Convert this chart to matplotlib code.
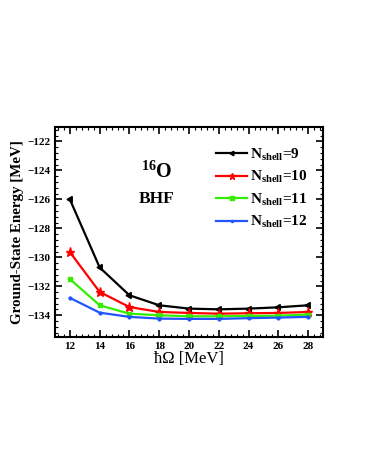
import matplotlib
matplotlib.use("Agg")
import matplotlib.pyplot as plt
from matplotlib.ticker import MultipleLocator

hw = [12, 14, 16, 18, 20, 22, 24, 26, 28]
e9 = [-126.0, -130.7, -132.62, -133.31, -133.54, -133.59, -133.54, -133.45, -133.31]
e10 = [-129.64, -132.39, -133.43, -133.77, -133.84, -133.89, -133.86, -133.84, -133.77]
e11 = [-131.5, -133.31, -133.89, -134.0, -134.07, -134.07, -134.05, -134.03, -133.95]
e12 = [-132.8, -133.82, -134.11, -134.23, -134.25, -134.25, -134.2, -134.16, -134.11]
labels = [r"$\mathbf{N_{shell}}$=9", r"$\mathbf{N_{shell}}$=10", r"$\mathbf{N_{shell}}$=11", r"$\mathbf{N_{shell}}$=12"]

plt.rcParams['font.family'] = ['Liberation Serif', 'DejaVu Serif']
plt.rcParams['mathtext.fontset'] = 'custom'
plt.rcParams['mathtext.rm'] = 'Liberation Serif'
plt.rcParams['mathtext.bf'] = 'Liberation Serif:bold'
plt.rcParams['mathtext.it'] = 'Liberation Serif:italic'

fig = plt.figure(figsize=(3.66, 4.73), dpi=100)
ax = fig.add_axes([55/366, 1-337/473, (323-55)/366, (337-127)/473])

ax.plot(hw, e9, color='black', marker=(3, 0, 90), ms=5, lw=1.6, label=labels[0])
ax.plot(hw, e10, color='red', marker='*', ms=6.5, lw=1.6, label=labels[1])
ax.plot(hw, e11, color='#33ee00', marker='s', ms=3.3, lw=1.6, label=labels[2])
ax.plot(hw, e12, color='#2255ff', marker='o', ms=2, lw=1.6, label=labels[3])

ax.set_xlim(11, 29)
ax.set_ylim(-135.5, -121)
ax.xaxis.set_major_locator(MultipleLocator(2))
ax.xaxis.set_minor_locator(MultipleLocator(0.4))
ax.yaxis.set_major_locator(MultipleLocator(2))
ax.yaxis.set_minor_locator(MultipleLocator(0.4))
ax.tick_params(which='both', direction='in', top=True, right=True, labelsize=8)
ax.tick_params(which='major', length=5, width=1.2)
ax.tick_params(which='minor', length=2.5, width=0.8)
for lab in ax.get_xticklabels() + ax.get_yticklabels():
    lab.set_fontweight('bold')
for s in ax.spines.values():
    s.set_linewidth(1.5)

ax.set_xlabel(r"ħΩ [MeV]", fontsize=12, labelpad=0)
ax.set_ylabel("Ground-State Energy [MeV]", fontsize=10.8, fontweight='bold', labelpad=2)

ax.text(17.85, -124.1, r"$\mathbf{^{16}}$O", fontsize=14.5, fontweight='bold', ha='center', va='center')
ax.text(17.8, -126.0, "BHF", fontsize=12.5, fontweight='bold', ha='center', va='center')

leg = ax.legend(loc='upper right', frameon=False, handlelength=2.0,
                handletextpad=0.2, labelspacing=0.42, borderaxespad=0.0,
                bbox_to_anchor=(0.965, 0.935),
                prop={'weight': 'bold', 'size': 11}, markerscale=0.75)

fig.savefig("out.png", dpi=100)
